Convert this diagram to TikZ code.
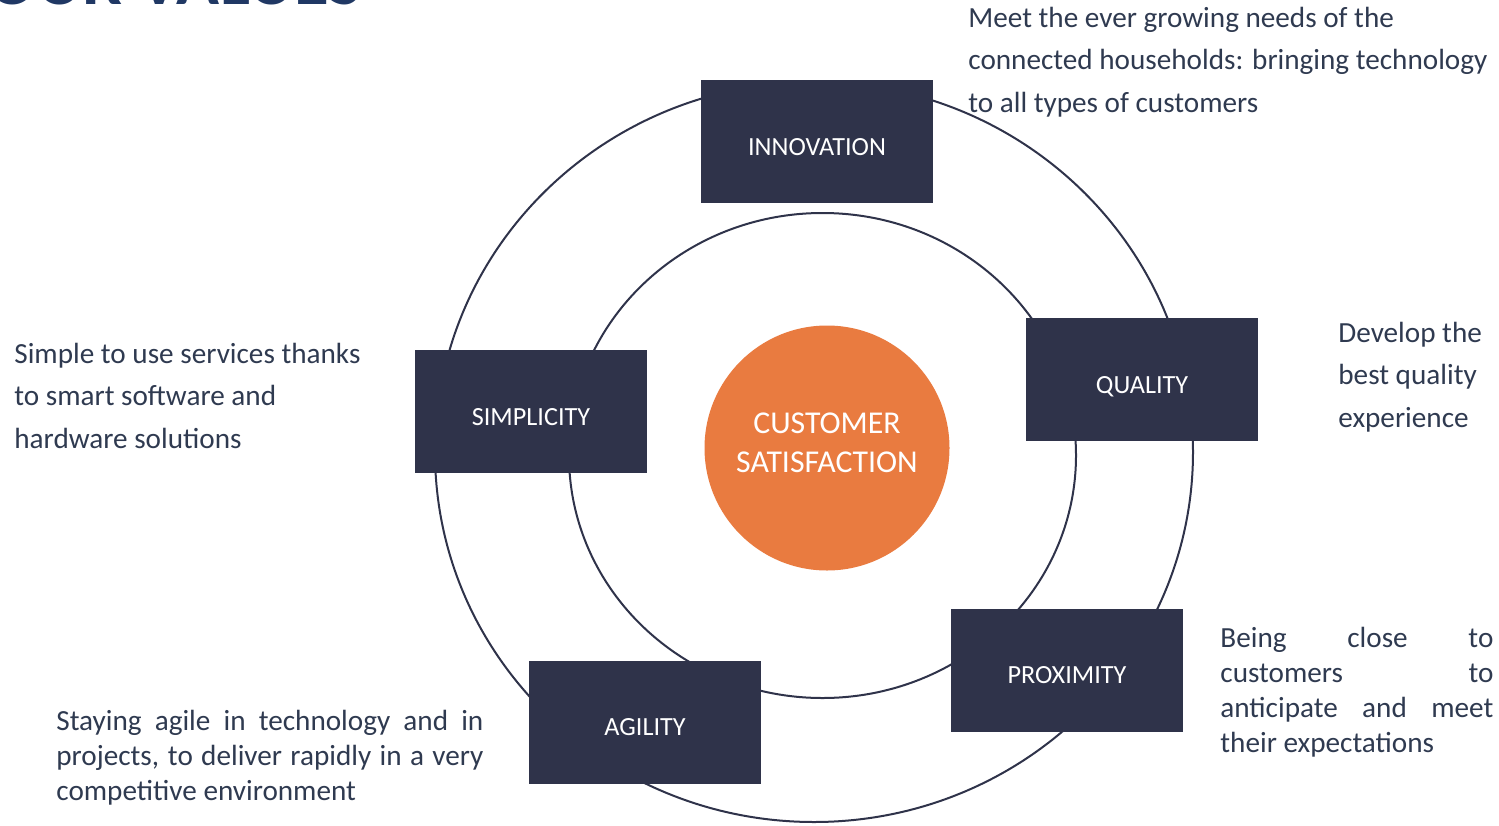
\documentclass[tikz,border=0pt]{standalone}
\usepackage{xcolor}
\definecolor{e97b40}{HTML}{E97B40}
\definecolor{boxnavy}{HTML}{2F334A}
\definecolor{textnavy}{HTML}{2F3A50}
\definecolor{titleblue}{HTML}{203864}
\usepackage{fontspec}
\setmainfont{Carlito}
\usepackage{tikz}

\tikzset{
    valuebox/.style={fill=boxnavy, text=white, minimum width=116pt, minimum height=61.5pt, inner sep=0pt,
        text height=13.6pt, text depth=0pt, font=\fontsize{13.1}{15}\selectfont},
    blurb/.style={text=textnavy, anchor=base west, inner sep=0pt, align=left, font=\fontsize{14.6}{21.25}\selectfont},
    blurbj/.style={blurb, align=justify, font=\fontsize{14.6}{17.5}\selectfont},
}

\begin{document}
\begin{tikzpicture}[x=0.5pt, y=-0.5pt]
            \path[use as bounding box, clip] (0, 0) rectangle (1499, 825);

            \node[anchor=base west, inner sep=0pt, text=titleblue, font=\fontsize{35.5}{40}\selectfont\bfseries] (title) at (-12, 4) {OUR VALUES};

            \draw[boxnavy, line width=1pt] (814, 452) ellipse [x radius=379, y radius=370];
            \draw[boxnavy, line width=1pt] (822.5, 455.5) ellipse [x radius=253.5, y radius=242.5];

            \node[circle, fill=e97b40, minimum size=122.5pt, inner sep=0pt] (sat) at (827, 448) {};
            \node[text=white, align=center, font=\fontsize{15.9}{19.5}\selectfont] (sattxt) at (827, 443) {CUSTOMER\\SATISFACTION};

            \node[valuebox] (innovation) at (817, 141.5) {INNOVATION};
            \node[valuebox] (quality) at (1142, 379.5) {QUALITY};
            \node[valuebox] (simplicity) at (531, 411.5) {SIMPLICITY};
            \node[valuebox] (proximity) at (1067, 670) {PROXIMITY};
            \node[valuebox] (agility) at (645, 722) {AGILITY};

            % anchor is on the last line of these
            \node[blurb] (innovtxt) at (968, 112) {Meet the ever growing needs of the\\connected households: bringing technology\\to all types of customers};
            \node[blurb] (qualtxt) at (1338, 427) {Develop the\\best quality\\experience};
            \node[blurb] (simptxt) at (14, 448) {Simple to use services thanks\\to smart software and\\hardware solutions};
            \node[blurbj, text width=136.5pt] (proxtxt) at (1220, 647) {Being close to\linebreak customers to\linebreak anticipate and meet\linebreak their expectations};
            \node[blurbj, text width=213.5pt] (agiltxt) at (56, 730) {Staying agile in technology and in\linebreak projects, to deliver rapidly in a very\linebreak competitive environment};
        \end{tikzpicture}
\end{document}
